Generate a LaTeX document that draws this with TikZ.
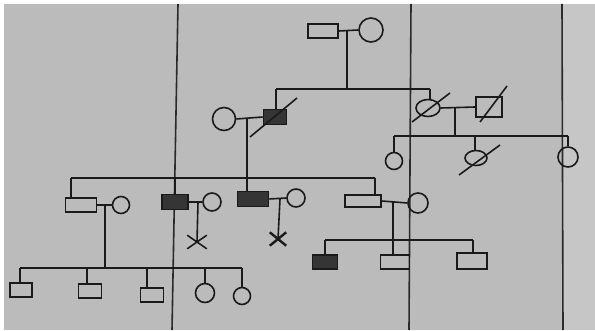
\documentclass[tikz,border=0pt]{standalone}
\usepackage{tikz}
\usetikzlibrary{calc,shapes.geometric,shapes.misc}
\definecolor{paper}{HTML}{BBBBBB}
\definecolor{paperlight}{HTML}{C6C6C6}
\definecolor{ink}{HTML}{1A1A1A}
\definecolor{rulecolor}{HTML}{2A2A2A}

\begin{document}
\begin{tikzpicture}[x=1pt, y=-1pt, line width=1.6pt, color=ink,
    male/.style 2 args={draw, rectangle, inner sep=0pt, minimum width=#1, minimum height=#2},
    female/.style={draw, circle, inner sep=0pt, minimum size=#1},
    femaleoval/.style 2 args={draw, ellipse, inner sep=0pt, minimum width=#1, minimum height=#2},
    affected/.style={fill=ink!88},
    lost/.style 2 args={draw, cross out, inner sep=0pt, minimum width=#1, minimum height=#2}]
    \useasboundingbox (0,0) rectangle (595,331);

    % Sheet of paper
    \fill[white] (0,0) rectangle (595,331);
    \fill[paper] (4,4) rectangle (595,330);
    \fill[paperlight] (563,4) rectangle (595,330);
    \draw[rulecolor] (178,4) -- (172,330);
    \draw[rulecolor] (411,4) -- (409,330);
    \draw[rulecolor] (562,4) -- (563,330);

    % Generation I
    \node[male={30pt}{14pt}] (i1) at (323,31) {};
    \node[female=24pt] (i2) at (371,30) {};
    \draw (i1.east) -- (i2.west);
    \coordinate (m1) at (347,31);
    \coordinate (s2l) at (276,89);
    \coordinate (s2r) at (430,89);
    \draw (m1) -- (m1 |- s2l);
    \draw (s2l) -- (s2r);

    % Generation II
    \node[female=23pt] (ii1) at (224,119) {};
    \node[male={23pt}{15pt}, affected] (ii2) at (275,117) {};
    \node[femaleoval={24pt}{17pt}] (ii3) at (428,108) {};
    \node[male={26pt}{20pt}] (ii4) at (489,107) {};
    \draw (s2l) -- (s2l |- ii2.north);
    \draw (s2r) -- (s2r |- ii3.north);
    \draw (ii1.east) -- (ii2.west);
    \draw (ii3.east) -- (ii4.west);
    % deceased
    \draw ($(ii2.center)+(-25,20)$) -- ($(ii2.center)+(22,-19)$);
    \draw ($(ii3.center)+(-16,14)$) -- ($(ii3.center)+(22,-15)$);
    \draw ($(ii4.center)+(-9,15)$) -- ($(ii4.center)+(18,-21)$);

    % Children of ii3 and ii4
    \coordinate (m3) at (455,108);
    \coordinate (s3l) at (394,136);
    \coordinate (s3m) at (475,136);
    \coordinate (s3r) at (568,136);
    \draw (m3) -- (m3 |- s3l);
    \draw (s3l) -- (s3r);
    \node[female=17pt] (iii9) at (394,161) {};
    \node[femaleoval={22pt}{15pt}] (iii10) at (476,158) {};
    \node[female=20pt] (iii11) at (568,157) {};
    \draw (s3l) -- (iii9.north);
    \draw (s3m) -- (s3m |- iii10.north);
    \draw (s3r) -- (iii11.north);
    \draw ($(iii10.center)+(-17,17)$) -- ($(iii10.center)+(24,-13)$);

    % Generation III
    \coordinate (m2) at (247,119);
    \coordinate (d31) at (71,178);
    \coordinate (d32) at (175,178);
    \coordinate (d33) at (375,178);
    \draw (d31) -- (d33);
    \node[male={31pt}{14pt}] (iii1) at (81,205) {};
    \node[female=17pt] (iii2) at (121,205) {};
    \node[male={26pt}{15pt}, affected] (iii3) at (175,202) {};
    \node[female=18pt] (iii4) at (212,202) {};
    \node[male={31pt}{15pt}, affected] (iii5) at (253,199) {};
    \node[female=18pt] (iii6) at (296,198) {};
    \node[male={36pt}{12pt}] (iii7) at (363,201) {};
    \node[female=20pt] (iii8) at (418,203) {};
    \draw (m2) -- (m2 |- iii5.north);
    \draw (d31) -- (d31 |- iii1.north);
    \draw (d32) -- (d32 |- iii3.north);
    \draw (d33) -- (d33 |- iii7.north);
    \draw (iii1.east) -- (iii2.west);
    \draw (iii3.east) -- (iii4.west);
    \draw (iii5.east) -- (iii6.west);
    \draw (iii7.east) -- (iii8.west);

    % Lost pregnancies
    \coordinate (m5) at (198,202);
    \coordinate (m6) at (280,199);
    \node[lost={18pt}{12pt}] (x1) at (197,242) {};
    \node[lost={14pt}{11pt}, line width=2.4pt] (x2) at (278,239) {};
    \draw (m5) -- (x1.center);
    \draw (m6) -- (x2.center);

    % Generation IV
    \coordinate (m4) at (105,205);
    \coordinate (m7) at (393,201);
    \coordinate (s4l) at (20,268);
    \coordinate (s4r) at (242,268);
    \coordinate (s5l) at (325,240);
    \coordinate (s5r) at (473,240);
    \draw (m4) -- (m4 |- s4l);
    \draw (s4l) -- (s4r);
    \draw (m7) -- (m7 |- s5l);
    \draw (s5l) -- (s5r);
    \node[male={22pt}{14pt}] (iv1) at (21,290) {};
    \node[male={23pt}{14pt}] (iv2) at (90,291) {};
    \node[male={23pt}{14pt}] (iv3) at (152,295) {};
    \node[female=19pt] (iv4) at (205,293) {};
    \node[female=17pt] (iv5) at (242,296) {};
    \node[male={25pt}{14pt}, affected] (iv6) at (325,262) {};
    \node[male={29pt}{14pt}] (iv7) at (395,262) {};
    \node[male={30pt}{16pt}] (iv8) at (472,261) {};
    \coordinate (d41) at (20,268);
    \coordinate (d42) at (87,268);
    \coordinate (d43) at (147,268);
    \coordinate (d44) at (205,268);
    \coordinate (d45) at (242,268);
    \coordinate (d46) at (325,240);
    \coordinate (d47) at (393,240);
    \coordinate (d48) at (473,240);
    \foreach \k in {1,...,8} {
        \draw (d4\k) -- (d4\k |- iv\k.north);
    }
\end{tikzpicture}
\end{document}
